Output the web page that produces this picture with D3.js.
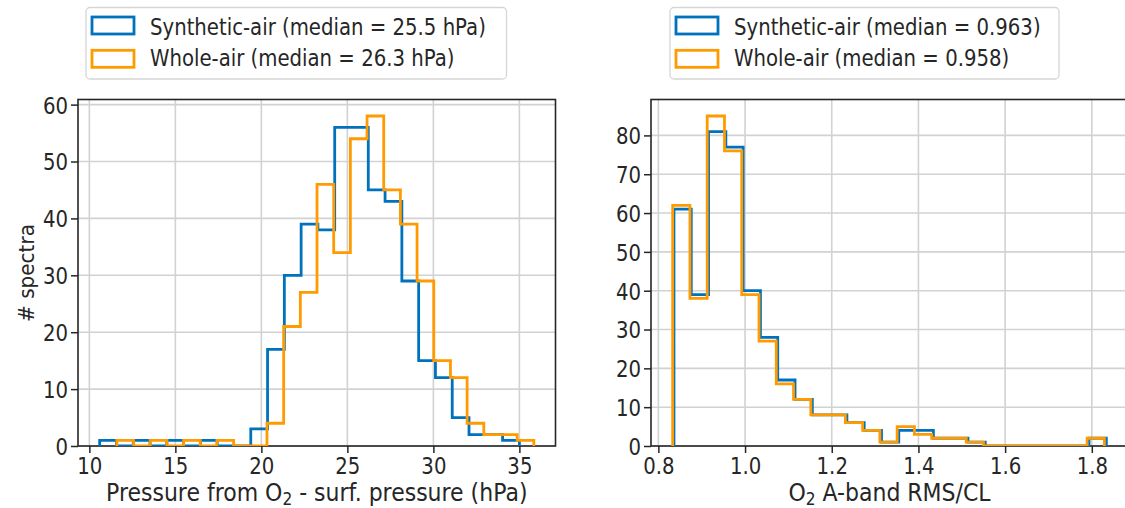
<!DOCTYPE html>
<html>
<head>
<meta charset="utf-8">
<script src="https://cdn.jsdelivr.net/npm/d3@7"></script>
<style>
  html, body { margin: 0; padding: 0; background: #fff; }
  svg { display: block; }
</style>
</head>
<body>
<svg id="chart" width="1125" height="508"></svg>
<script>
// ---- data ----
// left panel: pressure difference histograms, 25 bins each
const pressRangeSynth = [10.6, 35.0];
const pressCountsSynth = [1, 0, 1, 0, 1, 0, 1, 0, 0, 3, 17, 30, 39, 38, 56, 56, 45, 43, 29, 15, 12, 5, 2, 2, 1];
const pressRangeWhole = [11.6, 35.84];
const pressCountsWhole = [1, 0, 1, 0, 1, 0, 1, 0, 0, 4, 21, 27, 46, 34, 54, 58, 45, 39, 29, 15, 12, 4, 2, 2, 1];

// right panel: O2 A-band RMS/CL histograms, 25 bins each
const rmsRangeSynth = [0.836, 1.8335];
const rmsCountsSynth = [61, 39, 81, 77, 40, 28, 17, 12, 8, 8, 6, 4, 1, 4, 4, 2, 2, 1, 0, 0, 0, 0, 0, 0, 2];
const rmsRangeWhole = [0.833, 1.829];
const rmsCountsWhole = [62, 38, 85, 76, 39, 27, 16, 12, 8, 8, 6, 4, 1, 5, 3, 2, 2, 1, 0, 0, 0, 0, 0, 0, 2];

const pressTicksX = [10, 15, 20, 25, 30, 35];
const pressTicksY = [0, 10, 20, 30, 40, 50, 60];
const rmsTicksX = [0.8, 1.0, 1.2, 1.4, 1.6, 1.8];
const rmsTicksY = [0, 10, 20, 30, 40, 50, 60, 70, 80];

const legendLeft = ["Synthetic-air (median = 25.5 hPa)", "Whole-air (median = 26.3 hPa)"];
const legendRight = ["Synthetic-air (median = 0.963)", "Whole-air (median = 0.958)"];

// ---- styling ----
const blue = "#0072bd";
const orange = "#ff9b00";
const ink = "#262626";
const font = "'DejaVu Sans', sans-serif";
const fs = 19.7;
const fsLabel = 22;
const sy = 1.16; // glyphs in the reference are a bit taller than wide

const svg = d3.select("#chart");
const plotTop = 99.5, plotBottom = 446;

function histPoints(range, counts) {
  const w = (range[1] - range[0]) / counts.length;
  const pts = [[range[0], 0]];
  counts.forEach((c, i) => pts.push([range[0] + i * w, c]));
  pts.push([range[1], 0]);
  return pts;
}

function addText(parent, x, y, anchor, size) {
  return parent.append("text")
    .attr("transform", `translate(${x},${y}) scale(1,${sy})`)
    .attr("text-anchor", anchor)
    .attr("font-family", font)
    .attr("font-size", size || fs)
    .attr("fill", ink);
}

function drawPanel(cfg) {
  const x = d3.scaleLinear().domain(cfg.xDomain).range([cfg.left, cfg.right]);
  const y = d3.scaleLinear().domain(cfg.yDomain).range([plotBottom, plotTop]);
  const g = svg.append("g");

  // grid
  g.append("g").selectAll("line").data(cfg.xTicks).join("line")
    .attr("x1", d => x(d)).attr("x2", d => x(d))
    .attr("y1", plotTop).attr("y2", plotBottom)
    .attr("stroke", "#d2d2d2").attr("stroke-width", 1.6);
  g.append("g").selectAll("line").data(cfg.yTicks).join("line")
    .attr("x1", cfg.left).attr("x2", cfg.right)
    .attr("y1", d => y(d)).attr("y2", d => y(d))
    .attr("stroke", "#d2d2d2").attr("stroke-width", 1.6);

  // histograms
  const clipId = "clip" + cfg.id;
  svg.append("clipPath").attr("id", clipId).append("rect")
    .attr("x", cfg.left).attr("y", plotTop)
    .attr("width", cfg.right - cfg.left).attr("height", plotBottom - plotTop);

  const line = d3.line()
    .x(d => x(d[0]))
    .y(d => y(d[1]))
    .curve(d3.curveStepAfter);

  // axes
  const ax = g.append("g")
    .attr("transform", `translate(0,${plotBottom})`)
    .call(d3.axisBottom(x).tickValues(cfg.xTicks).tickSize(7).tickSizeOuter(0).tickFormat(cfg.xFormat));
  const ay = g.append("g")
    .attr("transform", `translate(${cfg.left},0)`)
    .call(d3.axisLeft(y).tickValues(cfg.yTicks).tickSize(7).tickSizeOuter(0));

  [ax, ay].forEach(a => {
    a.select(".domain").remove();
    a.selectAll(".tick line").attr("stroke", ink).attr("stroke-width", 1.5);
    a.selectAll(".tick text")
      .attr("font-family", font).attr("font-size", fs).attr("fill", ink)
      .attr("x", null).attr("y", null).attr("dy", null);
  });
  ax.selectAll(".tick text").attr("transform", `translate(0,27.5) scale(1,${sy})`);
  ay.selectAll(".tick text").attr("text-anchor", "end")
    .attr("transform", `translate(-10,8.4) scale(1,${sy})`);

  // spines
  g.append("rect")
    .attr("x", cfg.left).attr("y", plotTop)
    .attr("width", cfg.right - cfg.left).attr("height", plotBottom - plotTop)
    .attr("fill", "none").attr("stroke", ink).attr("stroke-width", 1.6);

  cfg.series.forEach(s => {
    g.append("path")
      .attr("d", line(histPoints(s.range, s.counts)))
      .attr("fill", "none")
      .attr("stroke", s.color)
      .attr("stroke-width", 2.8)
      .attr("stroke-linejoin", "miter")
      .attr("clip-path", `url(#${clipId})`);
  });

  // x label with subscript
  const xl = addText(g, (cfg.left + cfg.right) / 2, 500.5, "middle", fsLabel);
  xl.append("tspan").text(cfg.xLabel[0]);
  xl.append("tspan").attr("font-size", fsLabel * 0.7).attr("dy", 4).text("2");
  xl.append("tspan").attr("dy", -4).text(cfg.xLabel[1]);

  // legend
  const lg = g.append("g");
  lg.append("rect")
    .attr("x", cfg.legend.x).attr("y", 7.5)
    .attr("width", cfg.legend.w).attr("height", 71.5)
    .attr("rx", 4)
    .attr("fill", "#fff").attr("stroke", "#d6d6d6").attr("stroke-width", 1.3);
  cfg.series.forEach((s, i) => {
    lg.append("rect")
      .attr("x", cfg.legend.x + 6).attr("y", 17 + i * 33.3)
      .attr("width", 42).attr("height", 17)
      .attr("fill", "#fff").attr("stroke", s.color).attr("stroke-width", 2.8);
    addText(lg, cfg.legend.x + 64, 34.5 + i * 31.8, "start").text(cfg.legend.labels[i]);
  });
}

drawPanel({
  id: "L",
  left: 78, right: 555.5,
  xDomain: [9.34, 37.1],
  yDomain: [0, 60.9],
  xTicks: pressTicksX, yTicks: pressTicksY,
  xFormat: d3.format("d"),
  xLabel: ["Pressure from O", " - surf. pressure (hPa)"],
  series: [
    { range: pressRangeSynth, counts: pressCountsSynth, color: blue },
    { range: pressRangeWhole, counts: pressCountsWhole, color: orange }
  ],
  legend: { x: 86, w: 420.5, labels: legendLeft }
});

drawPanel({
  id: "R",
  left: 651, right: 1128,
  xDomain: [0.783, 1.8835],
  yDomain: [0, 89.25],
  xTicks: rmsTicksX, yTicks: rmsTicksY,
  xFormat: d3.format(".1f"),
  xLabel: ["O", " A-band RMS/CL"],
  series: [
    { range: rmsRangeSynth, counts: rmsCountsSynth, color: blue },
    { range: rmsRangeWhole, counts: rmsCountsWhole, color: orange }
  ],
  legend: { x: 670, w: 389, labels: legendRight }
});

// y label
addText(svg, 0, 0, "middle", 20)
  .attr("transform", "translate(34,273) scale(1.1,1) rotate(-90)")
  .text("# spectra");
</script>
</body>
</html>
